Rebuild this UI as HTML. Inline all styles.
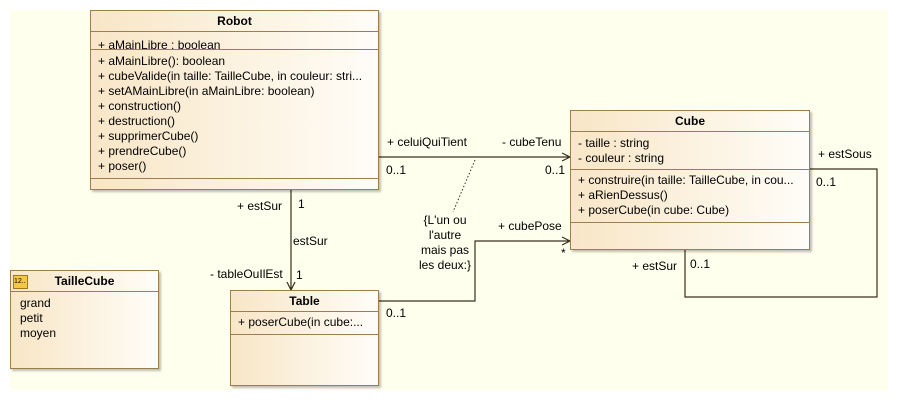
<!DOCTYPE html>
<html><head><style>
body{margin:0;width:898px;height:400px;background:#fff;position:relative;overflow:hidden;font-family:"Liberation Sans",sans-serif;font-size:12px;color:#000}
.bg{position:absolute;left:10px;top:10px;width:878px;height:380px;background:#FFFFEE}
.box{position:absolute;border:1px solid #9C7E4F;background:linear-gradient(to right,#F8E6C6,#FFFDF8);box-shadow:2px 2px 2px rgba(0,0,0,.25);box-sizing:border-box}
.hd{font-weight:bold;text-align:center;height:21px;line-height:20px;border-bottom:1px solid #9C7E4F;box-sizing:border-box}
.sec{border-bottom:1px solid #9C7E4F;padding:2px 0 2px 7px;line-height:15px;box-sizing:border-box;overflow:hidden;white-space:nowrap}
.t{position:absolute;white-space:nowrap;line-height:14px}
svg{position:absolute;left:0;top:0}
</style></head><body>
<div class="bg"></div>
<svg width="898" height="400">
<g stroke="#3a2e1e" fill="none" stroke-width="1.2">
<path d="M378 157H570M562 153L570 157L562 161"/>
<path d="M291 189V290M287 282L291 290L295 282"/>
<path d="M378 301H475V241H570M562 237L570 241L562 245"/>
<path d="M809 169H877V297H685V249"/>
<path d="M475 160L453 212" stroke-dasharray="1.5,2" stroke-width="1"/>
</g>
</svg>
<div class="box" style="left:90px;top:10px;width:289px;height:180px">
<div class="hd">Robot</div>
<div class="sec" style="height:18px;line-height:14px;padding-top:6px">+ aMainLibre : boolean</div>
<div class="sec" style="height:129px;padding-top:4px">+ aMainLibre(): boolean<br>+ cubeValide(in taille: TailleCube, in couleur: stri...<br>+ setAMainLibre(in aMainLibre: boolean)<br>+ construction()<br>+ destruction()<br>+ supprimerCube()<br>+ prendreCube()<br>+ poser()</div>
</div>
<div class="box" style="left:570px;top:110px;width:240px;height:140px">
<div class="hd">Cube</div>
<div class="sec" style="height:38px;padding-top:4px">- taille : string<br>- couleur : string</div>
<div class="sec" style="height:53px;padding-top:3px">+ construire(in taille: TailleCube, in cou...<br>+ aRienDessus()<br>+ poserCube(in cube: Cube)</div>
</div>
<div class="box" style="left:230px;top:290px;width:149px;height:96px">
<div class="hd">Table</div>
<div class="sec" style="height:23px;padding-top:3px">+ poserCube(in cube:...</div>
</div>
<div class="box" style="left:10px;top:270px;width:149px;height:99px">
<div class="hd">TailleCube</div>
<div style="position:absolute;left:2px;top:4px;width:13px;height:12px;background:#F5C842;border:1px solid #A07820;font-size:7px;line-height:12px;font-weight:normal">12..</div>
<div style="padding:4px 0 0 9px;line-height:15px">grand<br>petit<br>moyen</div>
</div>
<div class="t" style="left:387px;top:135px">+ celuiQuiTient</div>
<div class="t" style="left:502px;top:135px">- cubeTenu</div>
<div class="t" style="left:386px;top:163px">0..1</div>
<div class="t" style="left:545px;top:163px">0..1</div>
<div class="t" style="left:818px;top:147px">+ estSous</div>
<div class="t" style="left:816px;top:175px">0..1</div>
<div class="t" style="left:632px;top:259px">+ estSur</div>
<div class="t" style="left:690px;top:257px">0..1</div>
<div class="t" style="left:498px;top:219px">+ cubePose</div>
<div class="t" style="left:561px;top:246px">*</div>
<div class="t" style="left:237px;top:199px">+ estSur</div>
<div class="t" style="left:298px;top:197px">1</div>
<div class="t" style="left:293px;top:234px">estSur</div>
<div class="t" style="left:210px;top:267px">- tableOuIlEst</div>
<div class="t" style="left:296px;top:268px">1</div>
<div class="t" style="left:386px;top:306px">0..1</div>
<div class="t" style="left:410px;top:213px;width:70px;text-align:center;line-height:15px">{L'un ou<br>l'autre<br>mais pas<br>les deux:}</div>
</body></html>
